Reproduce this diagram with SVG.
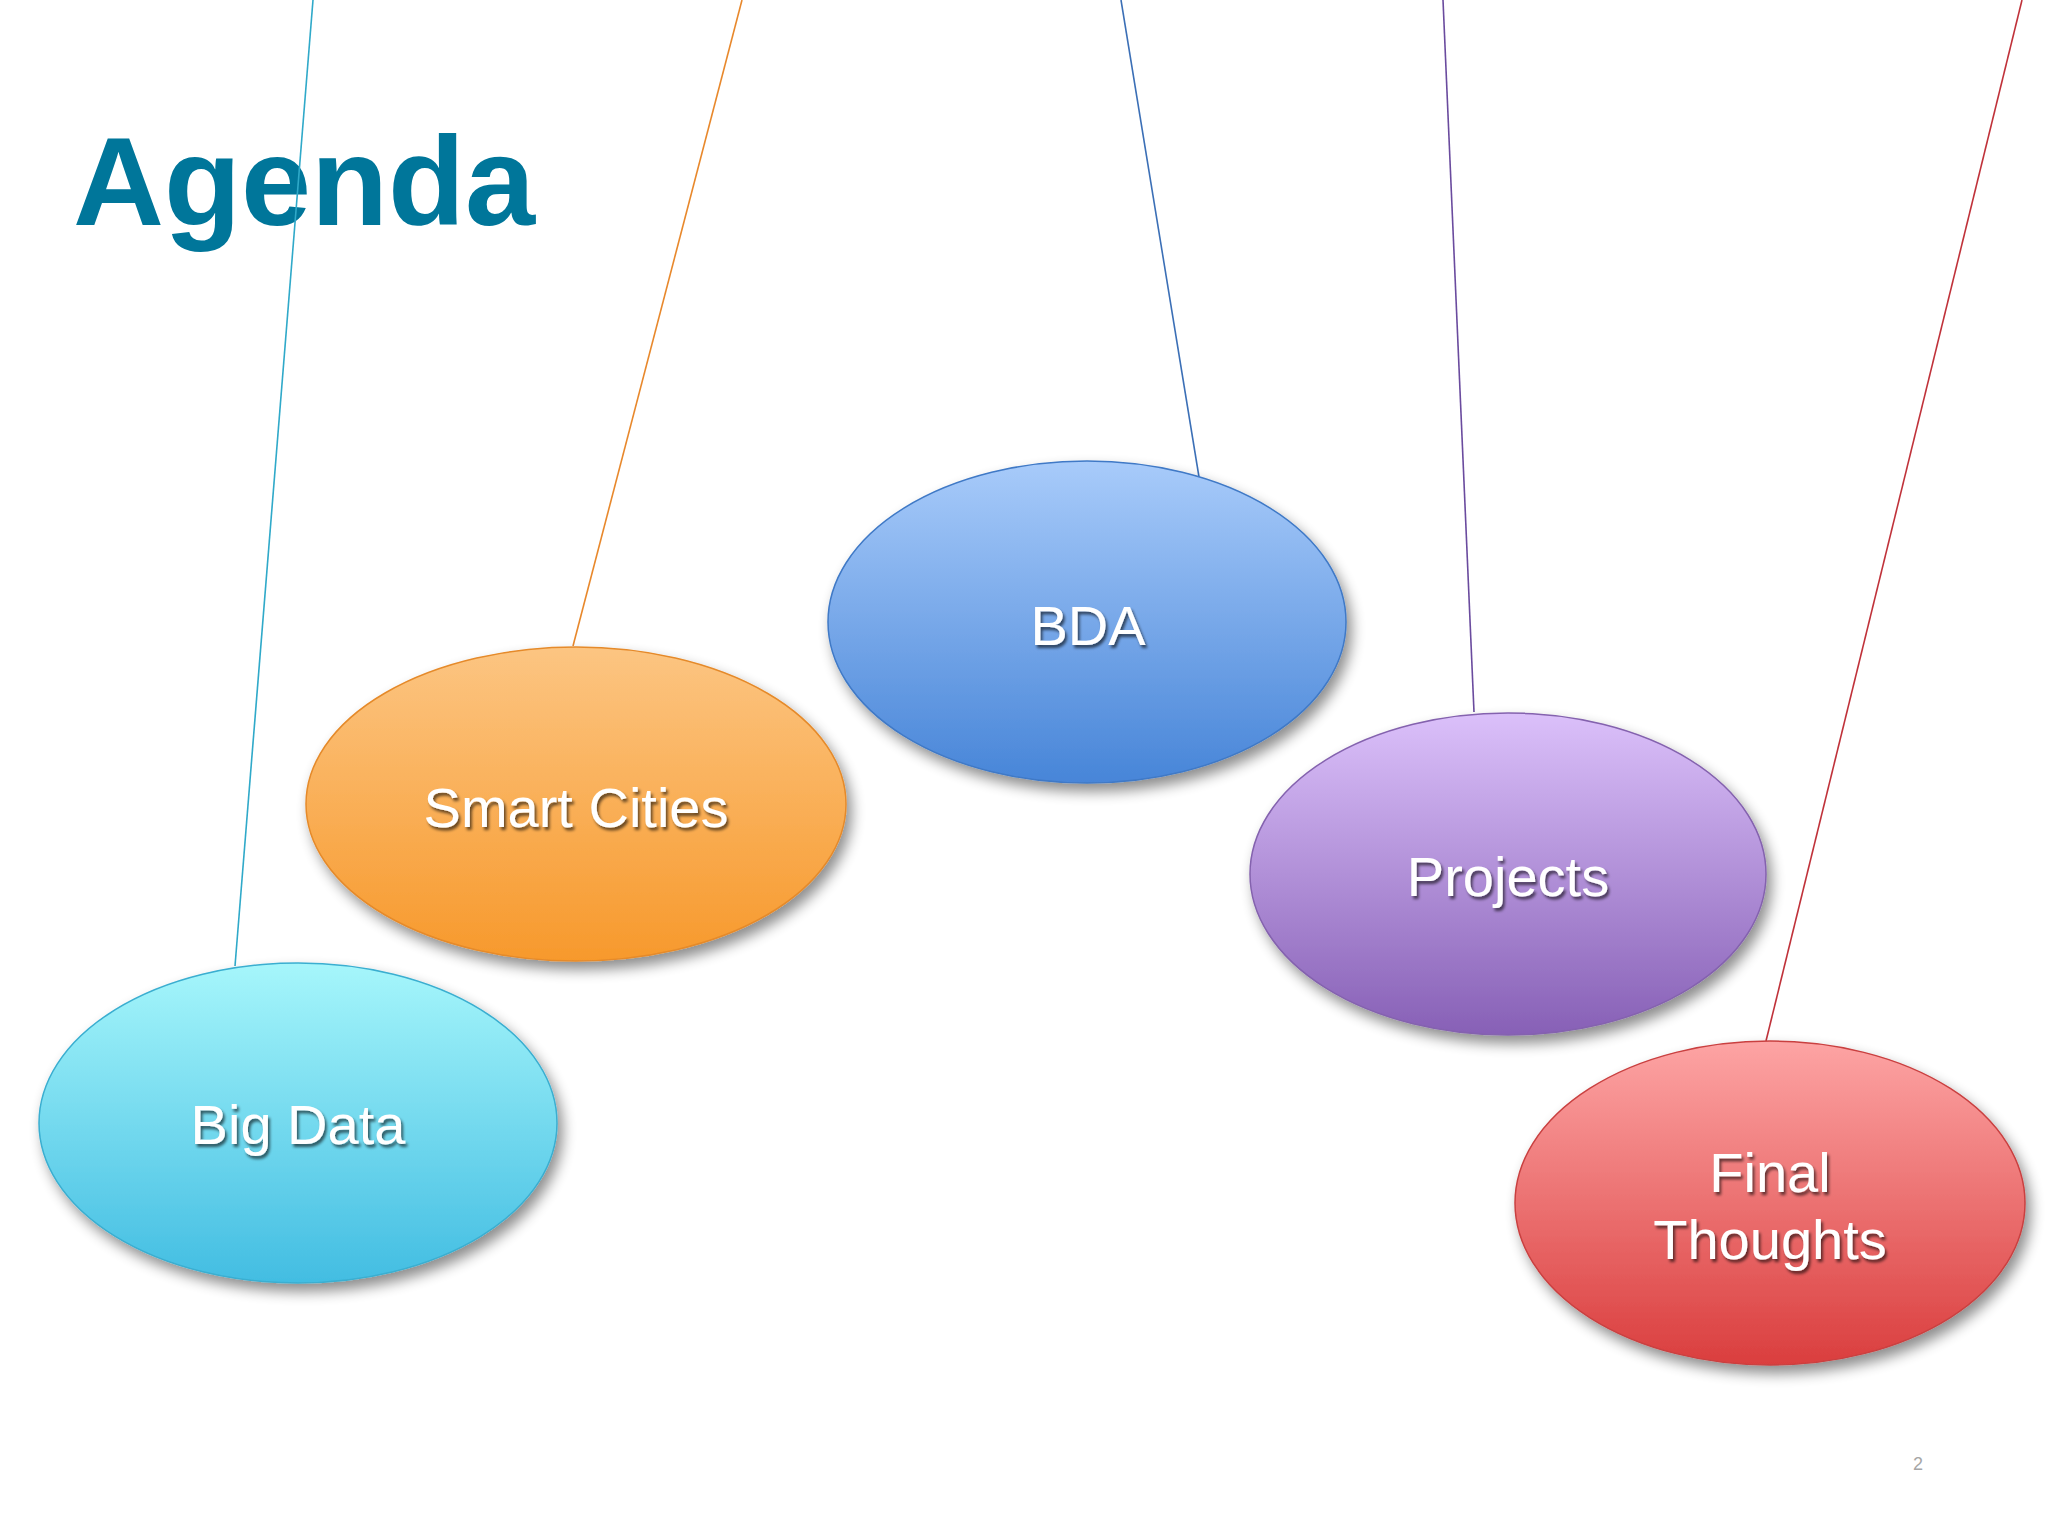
<svg xmlns="http://www.w3.org/2000/svg" width="2048" height="1536" viewBox="0 0 2048 1536">
  <style>
    .title { font-family: "Liberation Sans", Arial, sans-serif; font-weight: bold; font-size: 126px; fill: #00769a; }
    .lbl { font-family: "Liberation Sans", Arial, sans-serif; font-size: 56px; fill: #ffffff; text-anchor: middle; filter: url(#txtShadow); }
    .conn { fill: none; stroke-width: 1.6; }
    .node { filter: url(#shapeShadow); stroke-width: 1.5; }
    .pg { font-family: "Liberation Sans", Arial, sans-serif; font-size: 18px; fill: #a6a6a6; text-anchor: middle; }
  </style>
  <defs>
    <filter id="shapeShadow" x="-20%" y="-20%" width="145%" height="150%">
      <feGaussianBlur in="SourceAlpha" stdDeviation="7"/>
      <feOffset dx="5" dy="8" result="b"/>
      <feComponentTransfer><feFuncA type="linear" slope="0.45"/></feComponentTransfer>
      <feMerge><feMergeNode/><feMergeNode in="SourceGraphic"/></feMerge>
    </filter>
    <filter id="txtShadow" x="-10%" y="-30%" width="120%" height="160%">
      <feGaussianBlur in="SourceAlpha" stdDeviation="1.5"/>
      <feOffset dx="2" dy="3"/>
      <feComponentTransfer><feFuncA type="linear" slope="0.6"/></feComponentTransfer>
      <feMerge><feMergeNode/><feMergeNode in="SourceGraphic"/></feMerge>
    </filter>
    <linearGradient id="gCyan" x1="0" y1="0" x2="0" y2="1">
      <stop offset="0" stop-color="#a6f6fb"/>
      <stop offset="1" stop-color="#42bde2"/>
    </linearGradient>
    <linearGradient id="gOrange" x1="0" y1="0" x2="0" y2="1">
      <stop offset="0" stop-color="#fcc582"/>
      <stop offset="1" stop-color="#f7992c"/>
    </linearGradient>
    <linearGradient id="gBlue" x1="0" y1="0" x2="0" y2="1">
      <stop offset="0" stop-color="#a8cbfa"/>
      <stop offset="1" stop-color="#4785d8"/>
    </linearGradient>
    <linearGradient id="gPurple" x1="0" y1="0" x2="0" y2="1">
      <stop offset="0" stop-color="#dbc0fa"/>
      <stop offset="1" stop-color="#8760b6"/>
    </linearGradient>
    <linearGradient id="gRed" x1="0" y1="0" x2="0" y2="1">
      <stop offset="0" stop-color="#fda4a4"/>
      <stop offset="1" stop-color="#da3e3e"/>
    </linearGradient>
  </defs>

  <rect x="0" y="0" width="2048" height="1536" fill="#ffffff"/>

  <g id="title">
    <text class="title" x="73" y="225">Agenda</text>
  </g>

  <g id="connectors">
    <line class="conn" x1="313" y1="0" x2="235" y2="966" stroke="#2fa9c9"/>
    <line class="conn" x1="742" y1="0" x2="573" y2="646" stroke="#e8882c"/>
    <line class="conn" x1="1121" y1="0" x2="1199" y2="477" stroke="#3b6fb6"/>
    <line class="conn" x1="1443" y1="0" x2="1474" y2="712" stroke="#6a4b9e"/>
    <line class="conn" x1="2022" y1="0" x2="1766" y2="1041" stroke="#c0323a"/>
  </g>

  <g id="node-big-data">
    <ellipse class="node" cx="298" cy="1123" rx="259" ry="160" fill="url(#gCyan)" stroke="#3aaed0"/>
    <text class="lbl" x="298" y="1144">Big Data</text>
  </g>

  <g id="node-smart-cities">
    <ellipse class="node" cx="576" cy="804" rx="270" ry="157" fill="url(#gOrange)" stroke="#e58a2a"/>
    <text class="lbl" x="576" y="827">Smart Cities</text>
  </g>

  <g id="node-bda">
    <ellipse class="node" cx="1087" cy="622" rx="259" ry="161" fill="url(#gBlue)" stroke="#3f79c6"/>
    <text class="lbl" x="1088" y="645">BDA</text>
  </g>

  <g id="node-projects">
    <ellipse class="node" cx="1508" cy="874" rx="258" ry="161" fill="url(#gPurple)" stroke="#8462ae"/>
    <text class="lbl" x="1508" y="896">Projects</text>
  </g>

  <g id="node-final-thoughts">
    <ellipse class="node" cx="1770" cy="1203" rx="255" ry="162" fill="url(#gRed)" stroke="#c94040"/>
    <text class="lbl" x="1770" y="1192">Final</text>
    <text class="lbl" x="1770" y="1259">Thoughts</text>
  </g>

  <text class="pg" x="1918" y="1470">2</text>
</svg>
